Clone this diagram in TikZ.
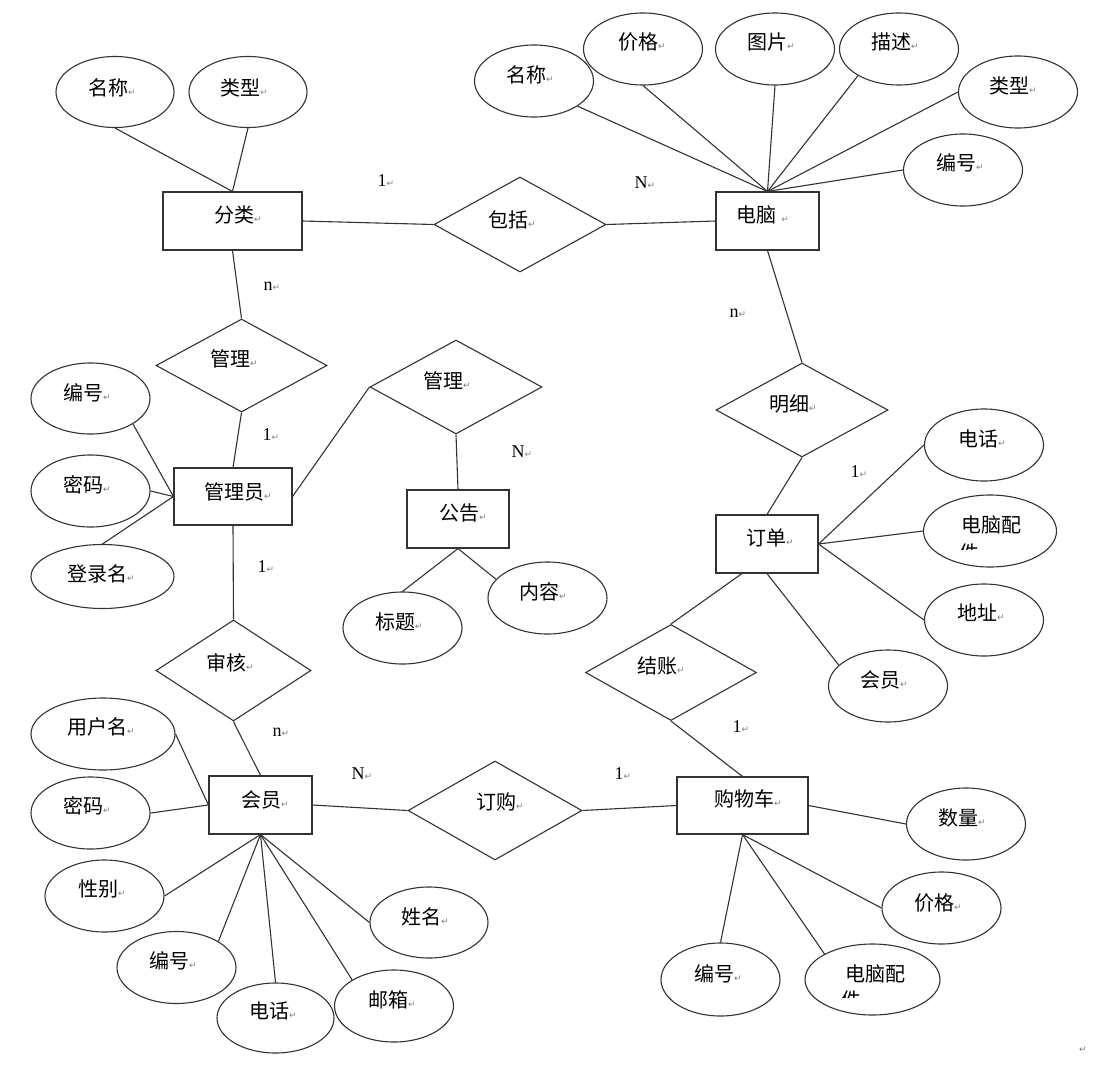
\documentclass[tikz,border=0pt]{standalone}
\usepackage{fontspec}
\setmainfont{Liberation Serif}
\newfontfamily\cjk{Noto Sans CJK SC}
\newfontfamily\symf{DejaVu Sans}
\usetikzlibrary{shapes.geometric,calc}
\newcommand{\retmark}{{\symf\fontsize{9}{9}\selectfont\color{black!50}↵}}
\tikzset{
  ent/.style={draw=black!80, line width=1.1pt, rectangle, inner sep=0pt},
  attr/.style={draw=black!80, line width=1.1pt, ellipse, inner sep=0pt, minimum width=119pt, minimum height=72pt},
  rel/.style={draw=black!80, line width=1.1pt, diamond, inner sep=0pt},
  lbl/.style={inner sep=0pt, font=\cjk\fontsize{20}{22}\selectfont},
  num/.style={inner sep=0pt, font=\fontsize{18}{20}\selectfont},
  conn/.style={draw=black!80, line width=1.1pt}
}
\begin{document}
\begin{tikzpicture}[x=1pt,y=-1pt]
\useasboundingbox (0,0) rectangle (1106,1074);
\fill[white] (0,0) rectangle (1106,1074);

% ---------- 分类 ----------
\node[attr, minimum width=118pt, minimum height=71pt] (mc1) at (115,92) {};
\node[lbl] (tmc1) at (112,88) {名称\retmark};
\node[attr, minimum width=118pt, minimum height=71pt] (lx1) at (248,92) {};
\node[lbl] (tlx1) at (244,88) {类型\retmark};
\node[ent, minimum width=139pt, minimum height=58pt] (fl) at (232.5,221) {};
\node[lbl] (tfl) at (238,215) {分类\retmark};

% ---------- 包括 ----------
\node[rel, minimum width=172pt, minimum height=95pt] (bk) at (520,224.5) {};
\node[lbl] (tbk) at (512,220) {包括\retmark};

% ---------- 电脑 ----------
\node[ent, minimum width=103pt, minimum height=58pt] (dn) at (767.5,221) {};
\node[lbl] (tdn) at (763,215) {电脑 \retmark};
\node[attr] (mc2) at (534,81) {};
\node[lbl] (tmc2) at (530,75) {名称\retmark};
\node[attr] (jg1) at (643,49) {};
\node[lbl] (tjg1) at (642,42) {价格\retmark};
\node[attr] (tp) at (775,49) {};
\node[lbl] (ttp) at (771,42) {图片\retmark};
\node[attr] (ms) at (899,49) {};
\node[lbl] (tms) at (895,42) {描述\retmark};
\node[attr] (lx2) at (1018,92) {};
\node[lbl] (tlx2) at (1013,86) {类型\retmark};
\node[attr] (bh1) at (963,170) {};
\node[lbl] (tbh1) at (960,163) {编号\retmark};

% ---------- 明细 / 订单 ----------
\node[rel, minimum width=172pt, minimum height=94pt] (mx) at (802,410) {};
\node[lbl] (tmx) at (793,404) {明细\retmark};
\node[ent, minimum width=102pt, minimum height=58pt] (dd) at (767,544) {};
\node[lbl] (tdd) at (770,538) {订单\retmark};
\node[attr] (dh1) at (984,445) {};
\node[lbl] (tdh1) at (982,439) {电话\retmark};
\node[attr, minimum width=133pt] (pj1) at (990,531) {};
\node[lbl] (tpj1) at (991,525) {电脑配};
\begin{scope}
  \clip (955,542) rectangle (990,549);
  \node[lbl] (tpj1b) at (969,552.5) {件};
\end{scope}
\node[attr] (dz) at (984,620) {};
\node[lbl] (tdz) at (981,613) {地址\retmark};
\node[attr] (hy1) at (888,686) {};
\node[lbl] (thy1) at (884,680) {会员\retmark};

% ---------- 结账 / 购物车 ----------
\node[rel, minimum width=171pt, minimum height=96pt] (jz) at (671,672.5) {};
\node[lbl] (tjz) at (661,666) {结账\retmark};
\node[ent, minimum width=131pt, minimum height=57pt] (gwc) at (742.5,805.5) {};
\node[lbl] (tgwc) at (748,799) {购物车\retmark};
\node[attr] (sl) at (966,824) {};
\node[lbl] (tsl) at (962,818) {数量\retmark};
\node[attr] (jg2) at (941.5,908) {};
\node[lbl] (tjg2) at (938,903) {价格\retmark};
\node[attr, minimum width=135pt, minimum height=71pt] (pj2) at (872.5,979.5) {};
\node[lbl] (tpj2) at (875,974) {电脑配};
\begin{scope}
  \clip (835,989) rectangle (870,997);
  \node[lbl] (tpj2b) at (851,999.5) {件};
\end{scope}
\node[attr, minimum height=73pt] (bh2) at (720.5,979.5) {};
\node[lbl] (tbh2) at (718,974) {编号\retmark};

% ---------- 订购 ----------
\node[rel, minimum width=174pt, minimum height=99pt] (dg) at (495,810.5) {};
\node[lbl] (tdg) at (500,802) {订购\retmark};

% ---------- 管理员 ----------
\node[rel, minimum width=171pt, minimum height=93pt] (gl1) at (241.5,365.5) {};
\node[lbl] (tgl1) at (234,359) {管理\retmark};
\node[ent, minimum width=118pt, minimum height=57pt] (gly) at (233,496.5) {};
\node[lbl] (tgly) at (238,492) {管理员\retmark};
\node[attr, minimum height=71pt] (bh3) at (90.5,398.5) {};
\node[lbl] (tbh3) at (87,393) {编号\retmark};
\node[attr] (mm1) at (90.5,491) {};
\node[lbl] (tmm1) at (87,485) {密码\retmark};
\node[attr, minimum width=143pt, minimum height=64pt] (dlm) at (102.5,576.5) {};
\node[lbl] (tdlm) at (101,574) {登录名\retmark};

% ---------- 公告 ----------
\node[rel, minimum width=172pt, minimum height=94pt] (gl2) at (456,387) {};
\node[lbl] (tgl2) at (447,381) {管理\retmark};
\node[ent, minimum width=102pt, minimum height=58pt] (gg) at (458,519) {};
\node[lbl] (tgg) at (463,513) {公告\retmark};
\node[attr] (nr) at (547.5,598) {};
\node[lbl] (tnr) at (543,592) {内容\retmark};
\node[attr] (bt) at (402.5,628) {};
\node[lbl] (tbt) at (399,622) {标题\retmark};

% ---------- 会员 ----------
\node[rel, minimum width=155pt, minimum height=101pt] (sh) at (233.5,670.5) {};
\node[lbl] (tsh) at (230,663) {审核\retmark};
\node[ent, minimum width=103pt, minimum height=58pt] (hy) at (260.5,805) {};
\node[lbl] (thy) at (265,800) {会员\retmark};
\node[attr, minimum width=144pt] (yhm) at (103,734) {};
\node[lbl] (tyhm) at (101,727) {用户名\retmark};
\node[attr] (mm2) at (90.5,813) {};
\node[lbl] (tmm2) at (87,806) {密码\retmark};
\node[attr] (xb) at (104.5,896) {};
\node[lbl] (txb) at (102,889) {性别\retmark};
\node[attr] (bh4) at (176.5,967.5) {};
\node[lbl] (tbh4) at (173,961) {编号\retmark};
\node[attr, minimum width=117pt, minimum height=70pt] (dh2) at (275.5,1018) {};
\node[lbl] (tdh2) at (273,1011) {电话\retmark};
\node[attr] (yx) at (394,1006) {};
\node[lbl] (tyx) at (392,1000) {邮箱\retmark};
\node[attr, minimum width=118pt, minimum height=71pt] (xm) at (429,922.5) {};
\node[lbl] (txm) at (425,917) {姓名\retmark};

% ---------- cardinalities ----------
\node[num] (c1) at (386,181) {1\retmark};
\node[num] (c2) at (645,183) {N\retmark};
\node[num] (c3) at (272,286) {n\retmark};
\node[num] (c4) at (271,435) {1\retmark};
\node[num] (c5) at (522,452) {N\retmark};
\node[num] (c6) at (266,567) {1\retmark};
\node[num] (c7) at (281,732) {n\retmark};
\node[num] (c8) at (362,774) {N\retmark};
\node[num] (c9) at (623,774) {1\retmark};
\node[num] (c10) at (738,313) {n\retmark};
\node[num] (c11) at (859,472) {1\retmark};
\node[num] (c12) at (741,727) {1\retmark};
\node[inner sep=0pt] (endmark) at (1083,1050) {\retmark};

% ---------- connectors ----------
\draw[conn] (mc1.south) -- (fl.north);
\draw[conn] (lx1.south) -- (fl.north);
\draw[conn] (fl.east) -- (bk.west);
\draw[conn] (bk.east) -- (dn.west);
\draw[conn] (mc2.-30) -- (dn.north);
\draw[conn] (jg1.south) -- (dn.north);
\draw[conn] (tp.south) -- (dn.north);
\draw[conn] (ms.213) -- (dn.north);
\draw[conn] (lx2.west) -- (dn.north);
\draw[conn] (bh1.west) -- (dn.north);
\draw[conn] (dn.south) -- (mx.north);
\draw[conn] (mx.south) -- (dd.north);
\draw[conn] (dd.east) -- (dh1.west);
\draw[conn] (dd.east) -- (pj1.west);
\draw[conn] (dd.east) -- (dz.west);
\draw[conn] (dd.south) -- (hy1.157);
\draw[conn] ($(dd.south)+(-25,0)$) -- (jz.north);
\draw[conn] (jz.south) -- (gwc.north);
\draw[conn] (gwc.east) -- (sl.west);
\draw[conn] (gwc.south) -- (jg2.west);
\draw[conn] (gwc.south) -- (pj2.152);
\draw[conn] (gwc.south) -- (bh2.north);
\draw[conn] (dg.east) -- (gwc.west);
\draw[conn] (hy.east) -- (dg.west);
\draw[conn] (fl.south) -- (gl1.north);
\draw[conn] (gl1.south) -- (gly.north);
\draw[conn] (bh3.-31) -- (gly.west);
\draw[conn] (mm1.east) -- (gly.west);
\draw[conn] (dlm.north) -- (gly.west);
\draw[conn] (gly.east) -- (gl2.west);
\draw[conn] (gl2.south) -- (gg.north);
\draw[conn] (gg.south) -- (bt.north);
\draw[conn] (gg.south) -- (nr.160);
\draw[conn] (gly.south) -- (sh.north);
\draw[conn] (sh.south) -- (hy.north);
\draw[conn] (yhm.east) -- (hy.west);
\draw[conn] (mm2.east) -- (hy.west);
\draw[conn] (xb.east) -- (hy.south);
\draw[conn] (bh4.32) -- (hy.south);
\draw[conn] (dh2.north) -- (hy.south);
\draw[conn] (yx.148) -- (hy.south);
\draw[conn] (xm.west) -- (hy.south);
\end{tikzpicture}
\end{document}
